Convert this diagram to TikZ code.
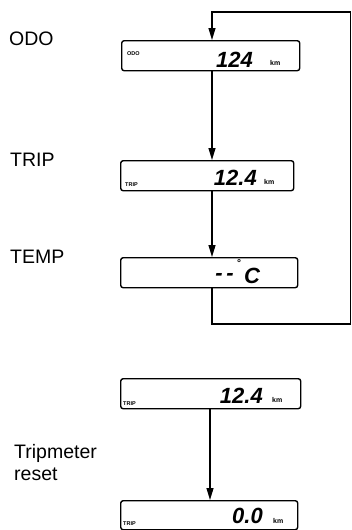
\documentclass[tikz,border=0pt]{standalone}
\usepackage{fontspec}
\setmainfont{Liberation Sans}
\usetikzlibrary{arrows.meta,calc}

\tikzset{
  lcdbox/.style={draw, line width=1.4pt, rounded corners=2.5pt, minimum height=30pt,
    anchor=north west, inner sep=0pt},
  modelabel/.style={font=\fontsize{19.5}{22}\selectfont, anchor=base west, align=left, inner sep=0pt},
  lcddigits/.style={font=\fontsize{22}{22}\selectfont\bfseries\itshape, anchor=base east, inner sep=0pt},
  lcdunit/.style={font=\fontsize{7}{7}\selectfont\bfseries, anchor=base west, inner sep=0pt},
  lcdtag/.style={font=\fontsize{5.5}{5.5}\selectfont\bfseries, anchor=base west, inner sep=0pt},
  flow/.style={line width=1.2pt, -{Triangle[length=12pt,width=7pt]}},
}

\begin{document}
\begin{tikzpicture}[x=1pt,y=-1pt]
  \useasboundingbox (0,0) rectangle (352,530);

  % mode names
  \node[modelabel] (lblodo)   at (9,45)  {ODO};
  \node[modelabel] (lbltrip)  at (10,166) {TRIP};
  \node[modelabel] (lbltemp)  at (10,263) {TEMP};
  \node[modelabel] (lblreset) at (14,480) {Tripmeter\\reset};

  % displays
  \node[lcdbox, minimum width=178pt] (odo)   at (121,40)  {};
  \node[lcdbox, minimum width=173pt] (trip)  at (120,160) {};
  \node[lcdbox, minimum width=177pt] (temp)  at (120,257) {};
  \node[lcdbox, minimum width=180pt] (tripA) at (120,378) {};
  \node[lcdbox, minimum width=177pt, minimum height=29pt] (tripB) at (120,500) {};

  % display contents
  \node[lcdtag]    (odotag)   at (127,55)  {ODO};
  \node[lcddigits] (odoval)   at (253,67)  {124};
  \node[lcdunit]   (odounit)  at (270,65)  {km};

  \node[lcdtag]    (triptag)  at (125,186) {TRIP};
  \node[lcddigits] (tripval)  at (257,185) {12.4};
  \node[lcdunit]   (tripunit) at (264,184) {km};

  \node[lcddigits] (tempval)  at (234,280) {-\,-};
  \node[lcdunit, font=\fontsize{10}{10}\selectfont\bfseries] (tempdeg) at (237,266) {°};
  \node[lcddigits, anchor=base west] (tempunit) at (244,283) {C};

  \node[lcdtag]    (tripAtag)  at (123,405) {TRIP};
  \node[lcddigits] (tripAval)  at (263,403) {12.4};
  \node[lcdunit]   (tripAunit) at (272,402) {km};

  \node[lcdtag]    (tripBtag)  at (123,525) {TRIP};
  \node[lcddigits] (tripBval)  at (263,523) {0.0};
  \node[lcdunit]   (tripBunit) at (273,523) {km};

  % connectors
  \coordinate (spine) at (212,0);
  \coordinate (resetcol) at (210,0);
  \coordinate (loopbot) at (350.5,324);
  \coordinate (looptop) at (350.5,12);

  \draw[flow] (odo.south -| spine) -- (trip.north -| spine);
  \draw[flow] (trip.south -| spine) -- (temp.north -| spine);
  \draw[flow] (temp.south -| spine) |- (loopbot) -- (looptop) -| (odo.north -| spine);
  \draw[flow] (tripA.south -| resetcol) -- (tripB.north -| resetcol);
\end{tikzpicture}
\end{document}
